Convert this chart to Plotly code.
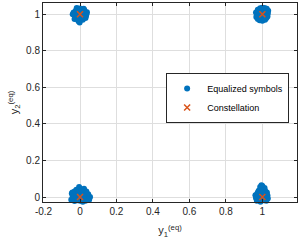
import plotly.graph_objects as go

# Constellation points
const_x = [0, 0, 1, 1]
const_y = [0, 1, 0, 1]

# Equalized symbols, hand-read offsets around each constellation point
a_dx = [-0.035,-0.02,-0.01,0.0,0.012,0.025,0.038,-0.028,-0.015,0.005,0.02,0.032,-0.04,-0.022,-0.005,0.01,0.028,-0.03,-0.012,0.003,0.018,0.035,-0.018,0.0,0.015,-0.008,0.008,0.022,-0.025,0.03,-0.002,0.01,-0.015,0.02]
a_dy = [0.01,0.025,0.03,0.032,0.028,0.02,0.012,-0.005,0.008,0.018,0.005,-0.01,0.0,-0.018,-0.01,-0.02,-0.015,-0.025,-0.03,-0.005,0.015,0.0,0.035,0.02,-0.03,-0.038,0.005,0.025,0.015,-0.02,-0.045,0.012,-0.008,0.03]

b_dx = [-0.035,-0.025,-0.012,0.0,0.012,0.024,0.032,-0.03,-0.018,-0.005,0.008,0.02,0.03,-0.033,-0.02,-0.008,0.005,0.018,0.028,-0.025,-0.012,0.0,0.012,0.022,-0.015,0.0,0.015,-0.005,0.008,-0.02]
b_dy = [0.01,0.025,0.033,0.036,0.034,0.03,0.02,-0.005,0.012,0.022,0.024,0.015,0.005,-0.015,-0.005,0.005,-0.01,-0.002,-0.012,-0.025,-0.02,-0.018,-0.025,-0.02,-0.032,-0.035,-0.03,0.01,0.0,0.02]

c_dx = [-0.045,-0.03,-0.015,0.0,0.015,0.03,0.045,0.055,-0.04,-0.025,-0.01,0.005,0.02,0.035,0.05,-0.048,-0.035,-0.02,-0.005,0.01,0.025,0.04,-0.03,-0.015,0.0,0.015,0.03,-0.02,-0.005,0.01,0.022,-0.01,0.005,0.035,-0.042,0.02]
c_dy = [0.02,0.03,0.028,0.045,0.035,0.025,0.015,0.0,0.005,0.015,0.02,0.025,0.018,0.008,-0.015,-0.015,-0.005,0.0,0.008,-0.005,0.0,-0.01,-0.022,-0.018,-0.02,-0.025,-0.02,0.04,0.055,0.04,0.045,-0.028,-0.03,0.03,0.025,0.01]

d_dx = [-0.038,-0.028,-0.015,0.0,0.015,0.028,-0.035,-0.022,-0.01,0.005,0.018,0.03,-0.03,-0.018,-0.005,0.01,0.022,-0.02,-0.008,0.005,0.015,-0.012,0.0,0.012,-0.005,0.008,-0.01,0.005,-0.025,0.025]
d_dy = [0.01,0.018,0.022,0.02,0.015,0.008,-0.005,0.002,0.008,0.005,0.0,-0.008,-0.02,-0.015,-0.012,-0.018,-0.02,0.035,0.04,0.045,0.035,0.055,0.06,0.05,0.065,0.028,-0.025,-0.03,0.025,0.025]

eq_x = ([0 + v for v in a_dx] + [1 + v for v in b_dx] +
        [0 + v for v in c_dx] + [1 + v for v in d_dx])
eq_y = ([1 + v for v in a_dy] + [1 + v for v in b_dy] +
        [0 + v for v in c_dy] + [0 + v for v in d_dy])

x_ticks = [-0.2, 0, 0.2, 0.4, 0.6, 0.8, 1]
y_ticks = [0, 0.2, 0.4, 0.6, 0.8, 1]

axis_col = "#262626"
font = "Liberation Sans, Arial, sans-serif"

fig = go.Figure()
fig.add_trace(go.Scatter(x=eq_x, y=eq_y, mode="markers", name="Equalized symbols",
                         marker=dict(color="#0072BD", size=6, line=dict(width=0)),
                         cliponaxis=False))
fig.add_trace(go.Scatter(x=const_x, y=const_y, mode="markers", name="Constellation",
                         marker=dict(color="#D95319", size=6, symbol="x-thin",
                                     line=dict(color="#D95319", width=1.5)),
                         cliponaxis=False))

ax_common = dict(showline=True, linecolor=axis_col, linewidth=1, mirror="ticks",
                 ticks="inside", ticklen=3, tickcolor=axis_col,
                 showgrid=True, gridcolor="#dedede", gridwidth=1, zeroline=False,
                 tickfont=dict(family=font, size=10, color=axis_col))

fig.update_layout(
    width=299, height=243,
    margin=dict(l=43, r=2, t=3, b=41, autoexpand=False),
    paper_bgcolor="white", plot_bgcolor="white",
    showlegend=True,
    legend=dict(x=0.969, y=0.648, xanchor="right", yanchor="top",
                bgcolor="white", bordercolor=axis_col, borderwidth=1,
                font=dict(family=font, size=9, color="#000000"),
                itemwidth=30, tracegroupgap=0),
    xaxis=dict(range=[-0.203, 1.19], tickvals=x_ticks,
               ticktext=[str(v) for v in x_ticks],
               title=dict(text="y<sub>1</sub><sup>(eq)</sup>", standoff=10,
                          font=dict(family=font, size=11, color=axis_col)),
               **ax_common),
    yaxis=dict(range=[-0.027, 1.062], tickvals=y_ticks,
               ticktext=[str(v) for v in y_ticks],
               title=dict(text="y<sub>2</sub><sup>(eq)</sup>", standoff=5,
                          font=dict(family=font, size=11, color=axis_col)),
               **ax_common),
)

fig.write_html("out.html", config={"displayModeBar": False},
               post_script="document.body.style.margin='0';")
